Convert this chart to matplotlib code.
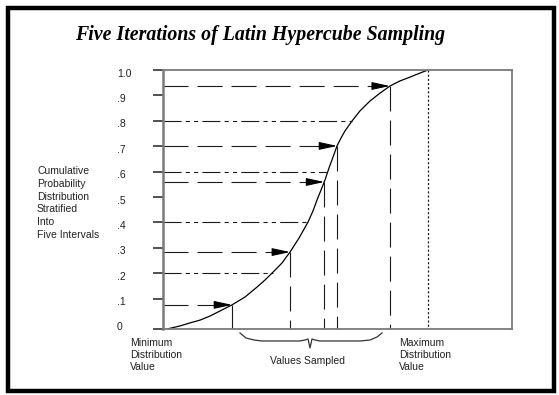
import matplotlib
matplotlib.use("Agg")
import matplotlib.pyplot as plt
from matplotlib.patches import Rectangle

plt.rcParams["lines.scale_dashes"] = False

# cumulative distribution curve (x in value units, y in probability)
curve_x = [1.15, 4.87, 7.74, 10.60, 13.47, 16.33, 19.77, 23.50, 26.93, 29.23, 31.52,
           34.10, 36.39, 38.97, 41.55, 42.98, 44.13, 45.27, 46.42, 47.56, 48.71,
           49.86, 51.00, 52.15, 54.15, 56.45, 59.31, 62.18, 65.04, 67.91, 70.77,
           73.64, 75.93]
curve_p = [-0.02, -0.008, 0.004, 0.015, 0.031, 0.051, 0.075, 0.106, 0.145, 0.173, 0.204,
           0.240, 0.283, 0.338, 0.401, 0.445, 0.488, 0.527, 0.567, 0.614, 0.657,
           0.701, 0.732, 0.760, 0.799, 0.839, 0.878, 0.909, 0.937, 0.957, 0.972,
           0.988, 1.0]

# stratum boundaries (dash-dot lines) and where they hit the curve
strata_p = [0.2, 0.4, 0.6, 0.8]
strata_x = [31.5, 41.5, 47.0, 54.2]

# the five sampled probabilities and the values they map to
sample_p = [0.075, 0.283, 0.559, 0.701, 0.937]
sample_x = [19.8, 36.4, 46.2, 49.9, 65.0]

max_x = 75.9
y_bottom = -0.02

tick_vals = [0.1, 0.2, 0.3, 0.4, 0.5, 0.6, 0.7, 0.8, 0.9, 1.0]
tick_labels = [".1", ".2", ".3", ".4", ".5", ".6", ".7", ".8", ".9", "1.0"]

# brace under the sampled values (pixel readings)
brace_px = [240, 246, 254, 262, 300, 305, 308, 310, 312, 315, 320, 360, 370, 377, 382]
brace_py = [333, 338, 340, 341, 341, 340, 339, 348, 339, 340, 341, 341, 340, 337, 333]

W, H = 559, 395
fig = plt.figure(figsize=(W / 100, H / 100), dpi=100)

# axes box in pixel terms: x 163..512, y 70..329
ax = fig.add_axes([163 / W, 1 - 329 / H, 349 / W, 259 / H])
ax.set_xlim(0, 100)
ax.set_ylim(y_bottom, 1.0)
grey = "#7a7a7a"
for s in ax.spines.values():
    s.set_color(grey)
    s.set_linewidth(1.3)
ax.spines["left"].set_linewidth(1.8)
ax.set_xticks([])
ax.set_yticks([y_bottom] + tick_vals)
ax.tick_params(axis="y", direction="out", length=7.4, width=1.1, color="#222222", labelleft=False)

sans = "Liberation Sans"
txt_col = "#222222"

# tick labels, left aligned like the original
for v, lab in zip([0.0] + tick_vals, ["0"] + tick_labels):
    ax.text(-13.2, v - 0.014, lab, ha="left", va="center", fontsize=7.5,
            family=sans, color=txt_col, clip_on=False)

# the cdf
ax.plot(curve_x, curve_p, color="black", lw=0.9)

long_dash = (0, (18, 6.5))
dash_dot = (0, (13, 3, 3, 3, 3, 3))
line_col = "#1a1a1a"

# stratum boundaries
for p, x in zip(strata_p, strata_x):
    ax.plot([0, x], [p, p], color=line_col, lw=0.8, linestyle=dash_dot)

# samples: horizontal arrow to curve, then down to the value axis
for p, x in zip(sample_p, sample_x):
    ax.plot([0, x - 3.5], [p, p], color=line_col, lw=0.8, linestyle=long_dash)
    ax.annotate("", xy=(x, p), xytext=(x - 4.3, p),
                arrowprops=dict(arrowstyle="-|>,head_length=1.1,head_width=0.24",
                                mutation_scale=10, shrinkA=0, shrinkB=0,
                                color="black", lw=0.8))
    ax.plot([x, x], [p, y_bottom], color=line_col, lw=0.8, linestyle=long_dash)

# maximum value marker
ax.plot([max_x, max_x], [1.0, y_bottom], color=line_col, lw=0.9, linestyle=(0, (1.5, 1.5)))

def py(pix):
    return (329 - pix) / 259 * 1.02 - 0.02

def px(pix):
    return (pix - 163) / 349 * 100

ax.plot([px(v) for v in brace_px], [py(v) for v in brace_py],
        color="#333333", lw=0.9, clip_on=False)

# text around the chart
fig.text(260 / W, 1 - 35 / H, "Five Iterations of Latin Hypercube Sampling",
         ha="center", va="center", fontsize=14.3, fontweight="bold", fontstyle="italic",
         family="Liberation Serif")

fig.text(37 / W, 1 - 203 / H,
         "Cumulative\nProbability\nDistribution\nStratified\nInto\nFive Intervals",
         ha="left", va="center", fontsize=7.5, family=sans, color=txt_col, linespacing=1.35)

fig.text(130 / W, 1 - 355 / H, "Minimum\nDistribution\nValue", ha="left", va="center",
         fontsize=7.5, family=sans, color=txt_col, linespacing=1.3)
fig.text(399 / W, 1 - 355 / H, "Maximum\nDistribution\nValue", ha="left", va="center",
         fontsize=7.5, family=sans, color=txt_col, linespacing=1.3)
fig.text(307 / W, 1 - 361 / H, "Values Sampled", ha="center", va="center",
         fontsize=7.5, family=sans, color=txt_col)

# heavy frame around the figure
fig.patches.append(Rectangle((7.5 / W, 1 - 390.5 / H), 546.5 / W, 383 / H,
                             transform=fig.transFigure, fill=False,
                             edgecolor="black", linewidth=3.2))

plt.savefig("out.png", dpi=100)
